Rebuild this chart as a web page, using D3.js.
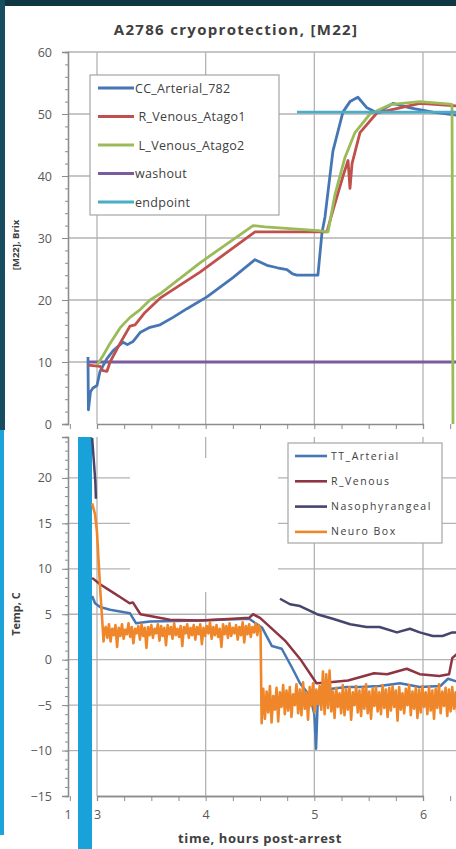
<!DOCTYPE html>
<html>
<head>
<meta charset="utf-8">
<script src="https://cdn.jsdelivr.net/npm/d3@7"></script>
<style>
  body { margin: 0; background: #fff; }
  svg { display: block; font-family: "Open Sans", sans-serif; }
</style>
</head>
<body>
<div id="chart"></div>
<script>
const width = 456;
const height = 849;

// top chart: [M22] Brix vs time (hours)
const topSeriesNames = ["CC_Arterial_782", " R_Venous_Atago1", " L_Venous_Atago2", "washout", "endpoint"];
const topColors = ["#4677b4", "#c0504d", "#9bbb59", "#7a5c9e", "#4bacc6"];

const ccArterial = [[2.917,10.8],[2.921,2.3],[2.94,5.2],[2.963,5.8],[3.0,6.2],[3.028,8.5],[3.09,10.5],[3.147,11.8],[3.239,13.2],[3.28,12.8],[3.331,13.3],[3.40,14.8],[3.488,15.6],[3.58,16],[3.70,17.2],[3.828,18.6],[4.012,20.5],[4.251,23.6],[4.454,26.5],[4.564,25.6],[4.66,25.2],[4.748,24.9],[4.80,24.2],[4.84,24.0],[5.033,24.0],[5.07,30.8],[5.098,33.4],[5.171,44],[5.263,50.3],[5.328,52],[5.401,52.7],[5.484,51],[5.576,50.2],[5.723,51.7],[5.88,51],[6.091,50.3],[6.31,49.8]];
const rVenousAtago1 = [[2.917,9.5],[3.028,9.3],[3.055,8.6],[3.092,8.5],[3.12,10],[3.212,13],[3.304,15.8],[3.35,16],[3.442,18],[3.58,20.3],[3.948,24.5],[4.454,31],[5.034,31],[5.116,31],[5.172,34.5],[5.264,40],[5.31,42.5],[5.328,38],[5.347,42],[5.42,47],[5.577,50.2],[5.788,51],[5.972,51.7],[6.31,51.3]];
const lVenousAtago2 = [[3.0,9.5],[3.055,11],[3.12,13],[3.212,15.5],[3.304,17.2],[3.40,18.5],[3.488,20],[3.58,21],[3.948,26],[4.436,32],[4.546,31.8],[4.776,31.5],[5.034,31.2],[5.126,31],[5.19,37],[5.282,43],[5.374,47],[5.512,50],[5.696,51.5],[5.972,52],[6.248,51.6],[6.267,51.5],[6.276,0]];
const washout = [[2.917,10],[6.35,10]];
const endpoint = [[4.84,50.3],[6.35,50.3]];

const topTicks = [0, 10, 20, 30, 40, 50, 60];

// bottom chart: temperature
const bottomSeriesNames = ["TT_Arterial", "R_Venous", "Nasophyrangeal", "Neuro Box"];
const bottomColors = ["#4677b4", "#8e3442", "#45456e", "#f0862a"];

const ttArterial = [[2.955,7],[2.982,6.2],[3.028,5.8],[3.12,5.5],[3.304,5.1],[3.36,4.0],[3.488,4.2],[3.948,4.3],[4.40,4.5],[4.52,3.5],[4.61,1.5],[4.70,1.2],[4.80,-1.0],[4.868,-2.6],[4.96,-4],[5.0,-6],[5.016,-9.8],[5.03,-5],[5.08,-4],[5.16,-3.2],[5.30,-3.0],[5.42,-3.0],[5.60,-2.9],[5.788,-2.6],[5.97,-3.0],[6.16,-2.9],[6.23,-2.1],[6.31,-2.4]];
const rVenous = [[2.955,9.0],[3.028,8.3],[3.12,7.6],[3.212,6.9],[3.30,6.2],[3.33,6.3],[3.40,5.0],[3.488,4.8],[3.67,4.4],[3.948,4.3],[4.25,4.5],[4.40,4.6],[4.436,5.0],[4.50,4.6],[4.546,4.1],[4.73,2.1],[4.88,-0.1],[5.02,-2.6],[5.12,-2.5],[5.31,-2.3],[5.55,-1.5],[5.67,-1.6],[5.85,-1.0],[5.97,-1.6],[6.15,-1.8],[6.24,-1.6],[6.27,0.2],[6.31,0.6]];
const nasophyrangeal = [[2.955,24.4],[2.97,22],[2.985,19.5],[2.99,17.7],null,[4.684,6.7],[4.776,6.1],[4.868,5.9],[5.025,5.0],[5.17,4.5],[5.33,3.9],[5.48,3.6],[5.60,3.6],[5.76,3.0],[5.88,3.4],[5.97,3.0],[6.09,2.6],[6.18,2.6],[6.27,3.0],[6.31,3.0]];
const neuroHead = [[2.955,17.2],[2.982,16],[3.0,14],[3.028,8],[3.05,4],[3.06,2.0],[3.07,3.2]];
// logged samples, evenly spaced between start and end time
const neuroBand1 = { t0: 3.08, t1: 4.505, values: [3.6,2.4,3.9,2.0,3.4,2.7,3.8,1.4,3.5,2.6,3.9,2.3,3.3,2.8,4.0,2.5,3.6,1.8,3.4,2.9,3.7,2.2,3.9,2.6,3.5,1.3,3.6,2.7,3.8,2.4,3.4,2.9,3.9,2.1,3.7,2.6,3.5,1.6,3.8,2.8,3.6,2.3,4.0,2.7,3.4,2.5,3.7,1.5,3.6,2.9,3.9,2.4,3.5,2.7,3.8,2.2,3.6,2.8,3.9,1.7,3.5,2.6,3.7,2.9,4.1,2.3,3.6,2.7,3.8,2.5,3.4,1.4,3.9,2.8,3.7,2.4,4.0,2.6,3.5,2.9,3.8,2.2,3.6,2.7,4.1,1.9,3.7,2.8,3.9,2.5,3.6,3.0,4.0,2.7,3.8,3.2] };
const neuroBand2 = { t0: 4.515, t1: 6.33, values: [-7.0,-3.2,-6.5,-3.5,-5.8,-2.9,-6.9,-4.0,-5.5,-3.1,-6.8,-3.6,-5.2,-2.8,-6.0,-3.4,-5.6,-3.0,-6.3,-3.8,-5.0,-2.7,-5.9,-3.3,-6.1,-2.5,-5.4,-3.6,-6.6,-3.0,-5.1,-2.6,-5.8,-3.3,-4.9,-2.9,-5.5,-1.3,-6.0,-1.6,-5.3,-1.2,-5.7,-3.5,-6.4,-3.1,-5.2,-3.7,-5.9,-2.8,-6.1,-3.3,-5.5,-3.0,-6.6,-3.6,-5.0,-2.9,-5.8,-3.4,-6.2,-3.1,-5.4,-2.7,-5.9,-3.5,-6.5,-3.2,-5.1,-3.0,-5.7,-3.6,-6.0,-2.8,-5.3,-3.3,-6.3,-3.1,-5.6,-2.9,-5.2,-3.4,-6.7,-3.0,-5.5,-3.7,-5.9,-3.2,-5.0,-2.8,-6.1,-3.5,-5.4,-3.1,-6.4,-3.3,-5.8,-2.9,-5.2,-3.6,-6.0,-3.0,-5.6,-3.4,-6.5,-3.2,-5.3,-2.7,-5.9,-3.5,-5.1,-3.1,-6.2,-3.3,-5.7,-3.0,-5.4,-3.6,-6.0,-3.2] };

const bottomTicks = [-15, -10, -5, 0, 5, 10, 15, 20];

// x axis
const xGrid = [3, 4, 5, 6];
const xLabelValues = [2.73, 3, 4, 5, 6];
const xLabels = ["1", "3", "4", "5", "6"];

const titleText = "A2786 cryoprotection, [M22]";
const topYTitle = "[M22], Brix";
const bottomYTitle = "Temp, C";
const xTitle = "time, hours post-arrest";

const svg = d3.select("#chart").append("svg")
  .attr("width", width)
  .attr("height", height);

const x = d3.scaleLinear().domain([3, 6]).range([97, 423]);
const yT = d3.scaleLinear().domain([0, 60]).range([424, 52]);
const yB = d3.scaleLinear().domain([-15, 24.5]).range([796, 437]);

const left = 68;
const gridColor = "#b3b3b3";
const axisColor = "#8c8c8c";

svg.append("defs").append("clipPath").attr("id", "clip")
  .append("rect").attr("x", left).attr("y", 0).attr("width", width - left).attr("height", height);

// ---- top chart ----
const gTop = svg.append("g");

gTop.selectAll("line.hgrid")
  .data(topTicks.filter(d => d > 0))
  .enter().append("line")
  .attr("x1", left).attr("x2", width)
  .attr("y1", d => yT(d)).attr("y2", d => yT(d))
  .attr("stroke", gridColor).attr("stroke-width", 1.3);

gTop.selectAll("line.vgrid")
  .data(xGrid)
  .enter().append("line")
  .attr("x1", d => x(d)).attr("x2", d => x(d))
  .attr("y1", yT(60)).attr("y2", yT(0))
  .attr("stroke", gridColor).attr("stroke-width", 1.3);

const yTopAxis = d3.axisLeft(yT).tickValues(topTicks).tickSize(6).tickPadding(10);
const yTopMinor = d3.axisLeft(yT).tickValues(d3.range(0, 61, 2)).tickSize(3).tickFormat("");
gTop.append("g").attr("transform", `translate(${left},0)`).call(yTopMinor);
gTop.append("g").attr("class", "ytick").attr("transform", `translate(${left},0)`).call(yTopAxis);

const xTopAxis = d3.axisBottom(x).tickValues(d3.range(2.75, 6.5, 0.25)).tickSize(5).tickFormat("");
gTop.append("g").attr("transform", `translate(0,${yT(0)})`).call(xTopAxis);

const lineT = d3.line().defined(d => d != null).x(d => x(d[0])).y(d => yT(d[1]));
const topData = [ccArterial, rVenousAtago1, lVenousAtago2, washout, endpoint];
const topDrawOrder = [3, 0, 1, 2, 4];

gTop.append("g").attr("clip-path", "url(#clip)")
  .selectAll("path")
  .data(topDrawOrder)
  .enter().append("path")
  .attr("d", i => lineT(topData[i]))
  .attr("fill", "none")
  .attr("stroke", i => topColors[i])
  .attr("stroke-width", 2.8)
  .attr("stroke-linejoin", "round");

// legend top
const legT = gTop.append("g");
legT.append("rect")
  .attr("x", 90).attr("y", 75).attr("width", 189).attr("height", 140)
  .attr("fill", "#fff").attr("stroke", "#a6a6a6").attr("stroke-width", 1.2);
topSeriesNames.forEach((name, i) => {
  const yy = 88 + i * 28.5;
  legT.append("line")
    .attr("x1", 98).attr("x2", 134).attr("y1", yy).attr("y2", yy)
    .attr("stroke", topColors[i]).attr("stroke-width", 2.8);
  legT.append("text")
    .attr("x", 135).attr("y", yy + 4.5)
    .style("white-space", "pre")
    .attr("font-size", 12.5)
    .attr("letter-spacing", 0.3)
    .attr("fill", "#404040")
    .text(name);
});

svg.append("text")
  .attr("x", 236).attr("y", 35)
  .attr("text-anchor", "middle")
  .attr("font-size", 15).attr("font-weight", "bold")
  .attr("letter-spacing", 1.3)
  .attr("fill", "#404040")
  .text(titleText);

svg.append("text")
  .attr("transform", "translate(19,245) rotate(-90)")
  .attr("text-anchor", "middle")
  .attr("font-size", 9.5).attr("font-weight", "bold")
  .attr("fill", "#404040")
  .text(topYTitle);

// ---- bottom chart ----
const gBot = svg.append("g");

gBot.selectAll("line.hgrid")
  .data(bottomTicks.filter(d => d > -15))
  .enter().append("line")
  .attr("x1", left).attr("x2", width)
  .attr("y1", d => yB(d)).attr("y2", d => yB(d))
  .attr("stroke", gridColor).attr("stroke-width", 1.3);

gBot.selectAll("line.vgrid")
  .data(xGrid)
  .enter().append("line")
  .attr("x1", d => x(d)).attr("x2", d => x(d))
  .attr("y1", yB(24.5)).attr("y2", yB(-15))
  .attr("stroke", gridColor).attr("stroke-width", 1.3);

// blank area that hides part of the grid
gBot.append("rect")
  .attr("x", 130).attr("y", 458).attr("width", 148).attr("height", 134)
  .attr("fill", "#fff");

const yBotAxis = d3.axisLeft(yB).tickValues(bottomTicks).tickSize(6).tickPadding(10);
const yBotMinor = d3.axisLeft(yB).tickValues(d3.range(-15, 25, 1)).tickSize(3).tickFormat("");
gBot.append("g").attr("transform", `translate(${left},0)`).call(yBotMinor);
gBot.append("g").attr("class", "ytick").attr("transform", `translate(${left},0)`).call(yBotAxis);

const xBotMinor = d3.axisBottom(x).tickValues(d3.range(2.75, 6.5, 0.25)).tickSize(5).tickFormat("");
gBot.append("g").attr("transform", `translate(0,${yB(-15)})`).call(xBotMinor);
const xBotAxis = d3.axisBottom(x).tickValues(xLabelValues).tickSize(0).tickPadding(14)
  .tickFormat((d, i) => xLabels[i]);
gBot.append("g").attr("class", "xtick").attr("transform", `translate(0,${yB(-15)})`).call(xBotAxis);

// cyan bar over the early part of the trace
gBot.append("rect")
  .attr("x", 78).attr("y", 437).attr("width", 14).attr("height", height - 437)
  .attr("fill", "#18a2d9");

const lineB = d3.line().defined(d => d != null).x(d => x(d[0])).y(d => yB(d[1]));
const bandPoints = band => band.values.map((v, i) =>
  [band.t0 + i * (band.t1 - band.t0) / (band.values.length - 1), v]);
const neuroBox = neuroHead.concat(bandPoints(neuroBand1), bandPoints(neuroBand2));

const bottomData = [ttArterial, rVenous, nasophyrangeal, neuroBox];
const bottomDrawOrder = [2, 0, 1, 3];

gBot.append("g").attr("clip-path", "url(#clip)")
  .selectAll("path")
  .data(bottomDrawOrder)
  .enter().append("path")
  .attr("d", i => lineB(bottomData[i]))
  .attr("fill", "none")
  .attr("stroke", i => bottomColors[i])
  .attr("stroke-width", i => i === 3 ? 2.6 : 2.5)
  .attr("stroke-linejoin", "round");

// legend bottom
const legB = gBot.append("g");
legB.append("rect")
  .attr("x", 288).attr("y", 443).attr("width", 154).attr("height", 100)
  .attr("fill", "#fff").attr("stroke", "#a6a6a6").attr("stroke-width", 1.2);
bottomSeriesNames.forEach((name, i) => {
  const yy = 456 + i * 25.3;
  legB.append("line")
    .attr("x1", 295).attr("x2", 327).attr("y1", yy).attr("y2", yy)
    .attr("stroke", bottomColors[i]).attr("stroke-width", 2.6);
  legB.append("text")
    .attr("x", 331).attr("y", yy + 3.5)
    .attr("font-size", 10.5)
    .attr("letter-spacing", 1.5)
    .attr("fill", "#404040")
    .text(name);
});

svg.append("text")
  .attr("transform", "translate(20,614) rotate(-90)")
  .attr("text-anchor", "middle")
  .attr("font-size", 11).attr("font-weight", "bold")
  .attr("fill", "#404040")
  .text(bottomYTitle);

svg.append("text")
  .attr("x", 260).attr("y", 843)
  .attr("text-anchor", "middle")
  .attr("font-size", 13).attr("font-weight", "bold")
  .attr("letter-spacing", 0.6)
  .attr("fill", "#404040")
  .text(xTitle);

// axis styling
svg.selectAll(".domain").attr("stroke", axisColor).attr("stroke-width", 1.3);
svg.selectAll(".tick line").attr("stroke", axisColor);
svg.selectAll(".ytick text, .xtick text")
  .attr("font-size", 12.5)
  .attr("font-family", "Open Sans, sans-serif")
  .attr("fill", "#595959");

// photo frame edges
svg.append("rect").attr("x", 0).attr("y", 0).attr("width", width).attr("height", 6).attr("fill", "#0f3743");
svg.append("rect").attr("x", 0).attr("y", 0).attr("width", 5).attr("height", 430).attr("fill", "#174d5e");
svg.append("rect").attr("x", 0).attr("y", 430).attr("width", 4).attr("height", 405).attr("fill", "#1da3da");
</script>
</body>
</html>
